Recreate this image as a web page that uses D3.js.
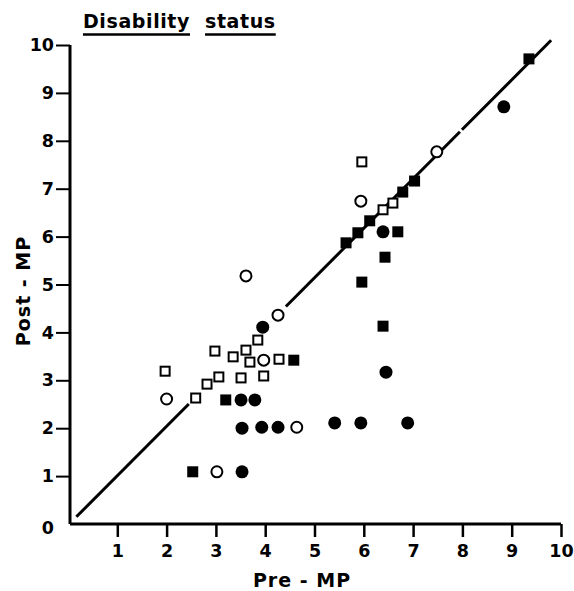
<!DOCTYPE html>
<html>
<head>
<meta charset="utf-8">
<script src="https://cdn.jsdelivr.net/npm/d3@7"></script>
<style>
  body { margin: 0; background: #fff; }
  text { font-family: "DejaVu Sans", sans-serif; font-weight: bold; fill: #000; }
</style>
</head>
<body>
<div id="chart"></div>
<script>
// Pre-MP vs Post-MP disability scores, one array per marker kind
var filledSquares = [
  [2.53, 1.09], [3.2, 2.59], [4.58, 3.42], [5.64, 5.87], [5.88, 6.08],
  [6.12, 6.33], [6.69, 6.10], [6.79, 6.93], [7.03, 7.16], [6.43, 5.57],
  [5.96, 5.05], [6.39, 4.13], [9.35, 9.71]
];
var openSquares = [
  [1.97, 3.19], [2.59, 2.63], [2.82, 2.92], [3.06, 3.07], [2.98, 3.61],
  [3.35, 3.49], [3.51, 3.05], [3.61, 3.63], [3.69, 3.38], [3.85, 3.84],
  [3.97, 3.09], [4.28, 3.44], [5.96, 7.56], [6.39, 6.56], [6.59, 6.70]
];
var filledCircles = [
  [3.53, 1.09], [3.51, 2.59], [3.79, 2.59], [3.53, 2.0], [3.93, 2.02],
  [4.26, 2.02], [5.41, 2.11], [5.94, 2.11], [6.89, 2.11], [3.95, 4.11],
  [6.39, 6.10], [6.45, 3.17], [8.84, 8.71]
];
var openCircles = [
  [3.02, 1.09], [2.0, 2.61], [3.97, 3.42], [4.64, 2.02], [3.61, 5.18],
  [4.26, 4.36], [5.94, 6.74], [7.48, 7.77]
];
// identity line, drawn in pieces (breaks as in the original)
var lineStart = [0.17, 0.15];
var lineEnd = [9.8, 10.1];
var lineBreaks = [[0.17, 2.45], [4.42, 7.95], [7.99, 9.8]];

var xTicks = [1, 2, 3, 4, 5, 6, 7, 8, 9, 10];
var yTicks = [0, 1, 2, 3, 4, 5, 6, 7, 8, 9, 10];

var svgWidth = 574;
var svgHeight = 591;

var svg = d3.select("#chart")
  .append("svg")
  .attr("width", svgWidth)
  .attr("height", svgHeight);

var x = d3.scaleLinear().domain([0, 10]).range([68, 561]);
var y = d3.scaleLinear().domain([0, 10]).range([524, 45]);

// axes
var xAxis = svg.append("g")
  .attr("transform", "translate(0,524)")
  .call(d3.axisBottom(x).tickValues(xTicks).tickSize(13).tickSizeOuter(0).tickPadding(8));
xAxis.select(".domain").attr("d", "M70,0H" + x(10)).attr("stroke-width", 3);
xAxis.selectAll(".tick line").attr("stroke-width", 2.5);
xAxis.selectAll(".tick text").attr("font-size", 17.5);

var yAxis = svg.append("g")
  .attr("transform", "translate(70,0)")
  .call(d3.axisLeft(y).tickValues(yTicks).tickSize(14).tickSizeOuter(0).tickPadding(2));
yAxis.select(".domain").attr("d", "M0," + y(0) + "V" + y(10)).attr("stroke-width", 3);
yAxis.selectAll(".tick line").attr("stroke-width", 2);
yAxis.selectAll(".tick text").attr("font-size", 17.5);
yAxis.selectAll(".tick").filter(d => d === 0).select("line").remove();
yAxis.selectAll(".tick").filter(d => d === 0).select("text").attr("dy", "0.55em");

// identity line
var slope = (lineEnd[1] - lineStart[1]) / (lineEnd[0] - lineStart[0]);
function lineY(v) { return lineStart[1] + (v - lineStart[0]) * slope; }
svg.selectAll(".diag")
  .data(lineBreaks)
  .enter()
  .append("line")
  .attr("class", "diag")
  .attr("x1", d => x(d[0]))
  .attr("y1", d => y(lineY(d[0])))
  .attr("x2", d => x(d[1]))
  .attr("y2", d => y(lineY(d[1])))
  .attr("stroke", "#000")
  .attr("stroke-width", 3);

// markers
var sq = 11;
svg.selectAll(".fsq")
  .data(filledSquares)
  .enter()
  .append("rect")
  .attr("x", d => x(d[0]) - sq / 2)
  .attr("y", d => y(d[1]) - sq / 2)
  .attr("width", sq)
  .attr("height", sq)
  .attr("fill", "#000");

svg.selectAll(".osq")
  .data(openSquares)
  .enter()
  .append("rect")
  .attr("x", d => x(d[0]) - 4.5)
  .attr("y", d => y(d[1]) - 4.5)
  .attr("width", 9)
  .attr("height", 9)
  .attr("fill", "#fff")
  .attr("stroke", "#000")
  .attr("stroke-width", 2);

svg.selectAll(".fci")
  .data(filledCircles)
  .enter()
  .append("circle")
  .attr("cx", d => x(d[0]))
  .attr("cy", d => y(d[1]))
  .attr("r", 6.5)
  .attr("fill", "#000");

svg.selectAll(".oci")
  .data(openCircles)
  .enter()
  .append("circle")
  .attr("cx", d => x(d[0]))
  .attr("cy", d => y(d[1]))
  .attr("r", 5.5)
  .attr("fill", "#fff")
  .attr("stroke", "#000")
  .attr("stroke-width", 2);

// axis titles
svg.append("text")
  .attr("x", 302)
  .attr("y", 587)
  .attr("text-anchor", "middle")
  .attr("font-size", 19)
  .attr("letter-spacing", 1)
  .text("Pre - MP");

svg.append("text")
  .attr("transform", "translate(30,291) rotate(-90)")
  .attr("text-anchor", "middle")
  .attr("font-size", 19)
  .attr("letter-spacing", 1)
  .text("Post - MP");

// title with two separate underlines
var titleWords = ["Disability", "status"];
var tx = 83;
titleWords.forEach(function(w) {
  var t = svg.append("text")
    .attr("x", tx)
    .attr("y", 28)
    .attr("font-size", 19)
    .attr("letter-spacing", 0.6)
    .text(w);
  var wLen = t.node().getComputedTextLength();
  svg.append("line")
    .attr("x1", tx)
    .attr("x2", tx + wLen)
    .attr("y1", 34.5)
    .attr("y2", 34.5)
    .attr("stroke", "#000")
    .attr("stroke-width", 2.5);
  tx += wLen + 15;
});
</script>
</body>
</html>
